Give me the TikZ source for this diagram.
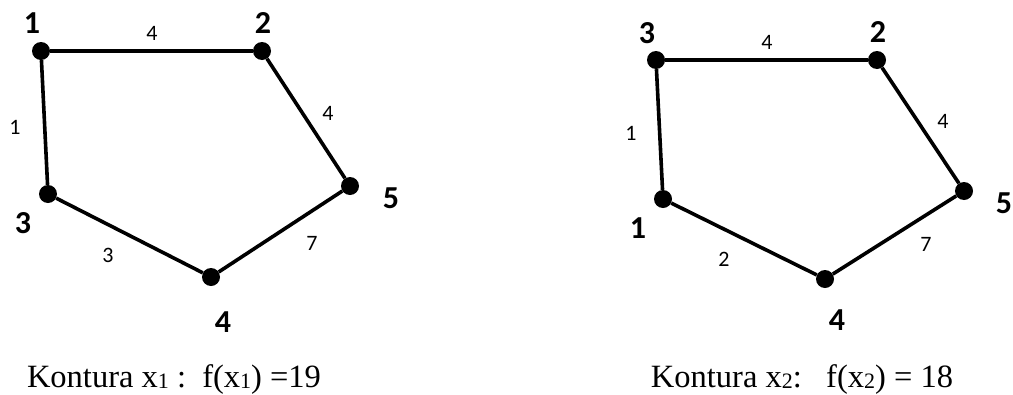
\documentclass[tikz,border=0pt]{standalone}
\usepackage{fontspec}
\setmainfont{Liberation Serif}
\newfontfamily\calibri{Carlito}
\usetikzlibrary{positioning}
\newcommand{\subdig}[1]{\raisebox{-1.5pt}{\fontsize{22}{22}\selectfont #1}}

\begin{document}
\begin{tikzpicture}[
    x=1pt, y=-1pt,
    vtx/.style={circle, fill=black, inner sep=0pt, minimum size=18pt},
    edge/.style={line width=3.6pt},
    vlabel/.style={font=\calibri\bfseries\fontsize{32}{32}\selectfont, inner sep=0pt},
    wlabel/.style={font=\calibri\fontsize{22}{22}\selectfont, inner sep=0pt},
    caption/.style={font=\fontsize{32.5}{32.5}\selectfont, inner sep=0pt, anchor=base}
]
\useasboundingbox (0,0) rectangle (1013,394);

% left contour x1
\node (a1) [vtx] at (41,51) {};
\node (a2) [vtx] at (262,51) {};
\node (a5) [vtx] at (350,186) {};
\node (a4) [vtx] at (211,277) {};
\node (a3) [vtx] at (48,194) {};
\draw[edge] (a1) -- (a2) -- (a5) -- (a4) -- (a3) -- (a1);

\node (la1) [vlabel] at (32,23) {1};
\node (la2) [vlabel] at (263,23) {2};
\node (la5) [vlabel] at (391,198) {5};
\node (la4) [vlabel] at (223,322) {4};
\node (la3) [vlabel] at (23,223) {3};

\node (wa12) [wlabel] at (152,33) {4};
\node (wa25) [wlabel] at (328,113) {4};
\node (wa54) [wlabel] at (312,243) {7};
\node (wa43) [wlabel] at (108,255) {3};
\node (wa31) [wlabel] at (15,127) {1};

\node (capa) [caption] at (174,387) {Kontura x\subdig{1} :\ \ f(x\subdig{1}) =19};

% right contour x2
\node (b3) [vtx] at (656,60) {};
\node (b2) [vtx] at (877,60) {};
\node (b5) [vtx] at (964,191) {};
\node (b4) [vtx] at (825,279) {};
\node (b1) [vtx] at (663,199) {};
\draw[edge] (b3) -- (b2) -- (b5) -- (b4) -- (b1) -- (b3);

\node (lb3) [vlabel] at (647,33) {3};
\node (lb2) [vlabel] at (878,32) {2};
\node (lb5) [vlabel] at (1004,203) {5};
\node (lb4) [vlabel] at (837,320) {4};
\node (lb1) [vlabel] at (638,228) {1};

\node (wb32) [wlabel] at (767,42) {4};
\node (wb25) [wlabel] at (943,121) {4};
\node (wb54) [wlabel] at (926,244) {7};
\node (wb41) [wlabel] at (724,259) {2};
\node (wb13) [wlabel] at (631,133) {1};

\node (capb) [caption] at (802,387) {Kontura x\subdig{2}:\ \ \ f(x\subdig{2}) = 18};
\end{tikzpicture}
\end{document}
